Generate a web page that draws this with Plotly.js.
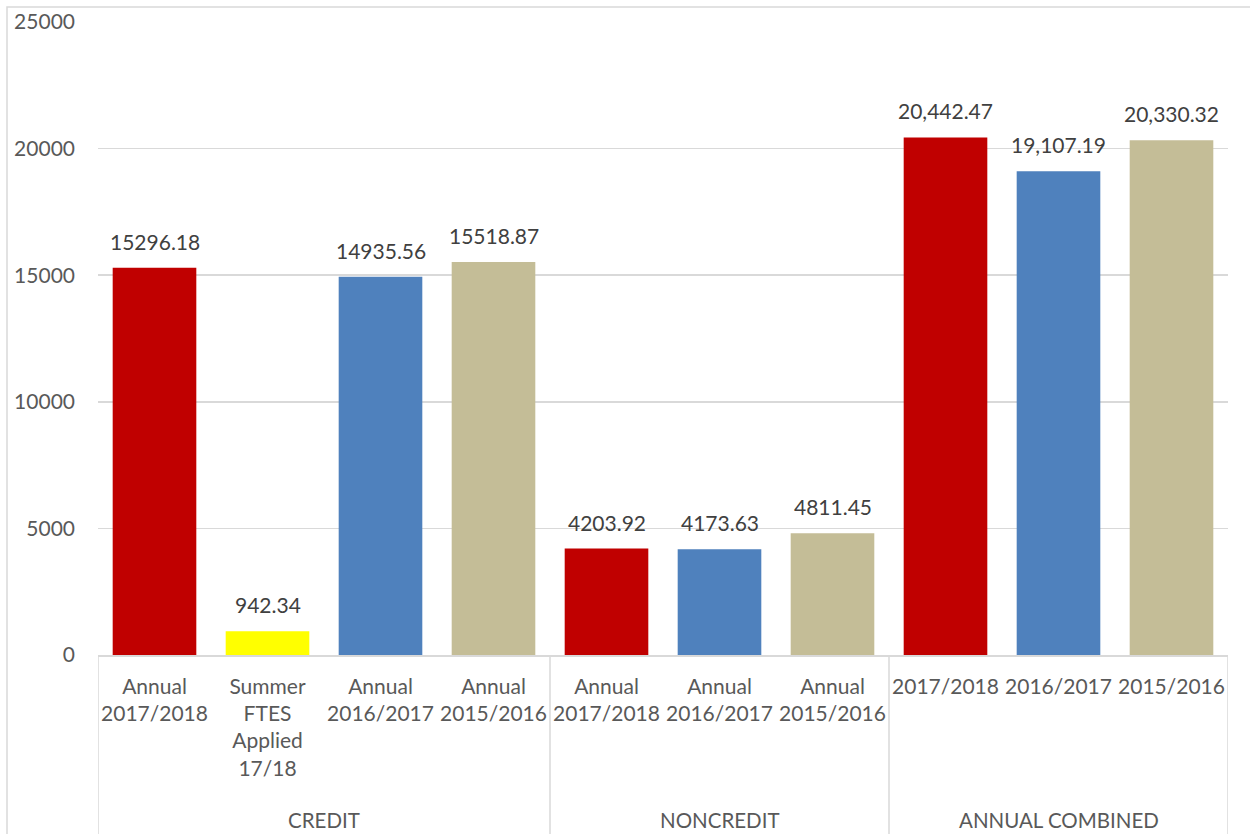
<!DOCTYPE html>
<html>
<head>
<meta charset="utf-8">
<script src="https://cdn.plot.ly/plotly-3.0.1.min.js"></script>
<style>
html,body{margin:0;padding:0;background:#fff;}
#chart{width:1250px;height:834px;}
</style>
</head>
<body>
<div id="chart"></div>
<script>
const groups = ["CREDIT", "NONCREDIT", "ANNUAL COMBINED"];
const groupOf = [0, 0, 0, 0, 1, 1, 1, 2, 2, 2];
const tickLabels = [
  "Annual<br>2017/2018",
  "Summer<br>FTES<br>Applied<br>17/18",
  "Annual<br>2016/2017",
  "Annual<br>2015/2016",
  "Annual<br>2017/2018",
  "Annual<br>2016/2017",
  "Annual<br>2015/2016",
  "2017/2018",
  "2016/2017",
  "2015/2016"
];
const values = [15296.18, 942.34, 14935.56, 15518.87, 4203.92, 4173.63, 4811.45, 20442.47, 19107.19, 20330.32];
const valueLabels = ["15296.18", "942.34", "14935.56", "15518.87", "4203.92", "4173.63", "4811.45", "20,442.47", "19,107.19", "20,330.32"];
const barColors = ["#C00000", "#FFFF00", "#4F81BD", "#C4BD97", "#C00000", "#4F81BD", "#C4BD97", "#C00000", "#4F81BD", "#C4BD97"];
const yTicks = [0, 5000, 10000, 15000, 20000, 25000];

const xs = tickLabels.map((_, i) => i);
const FONT = "Lato, 'Open Sans', sans-serif";
const H = 834, W = 1250;
const mL = 98, mR = 22, mT = 22, mB = 179;
const plotH = H - mT - mB, plotW = W - mL - mR;

const annotations = [];
xs.forEach((x, i) => {
  annotations.push({
    x: x, y: values[i], xref: "x", yref: "y",
    text: valueLabels[i], showarrow: false,
    yanchor: "bottom", yshift: 12,
    font: {family: FONT, size: 21, color: "#404040"}
  });
});
groups.forEach((g, gi) => {
  const idx = xs.filter(i => groupOf[i] === gi);
  const cx = (idx[0] + idx[idx.length - 1]) / 2;
  annotations.push({
    x: cx, y: -(820 - 655) / plotH, xref: "x", yref: "paper",
    text: g, showarrow: false, yanchor: "middle",
    font: {family: FONT, size: 20.5, color: "#595959"}
  });
});

const shapes = [];
const sepY0 = 0, sepY1 = -(H - mT - plotH) / plotH - 0.01;
const seps = [-0.5];
for (let i = 1; i < groupOf.length; i++) if (groupOf[i] !== groupOf[i - 1]) seps.push(i - 0.5);
seps.push(groupOf.length - 0.5);
seps.forEach(s => shapes.push({
  type: "line", xref: "x", yref: "paper", x0: s, x1: s, y0: sepY0, y1: sepY1,
  line: {color: "#D9D9D9", width: 1.5}
}));
shapes.push({
  type: "rect", xref: "paper", yref: "paper",
  x0: (7 - mL) / plotW, x1: (W + 20 - mL) / plotW,
  y0: -(H + 20 - mT - plotH) / plotH, y1: 1 + (mT - 7) / plotH,
  line: {color: "#D9D9D9", width: 1.5}
});

const trace = {
  type: "bar", x: xs, y: values,
  marker: {color: barColors, line: {width: 0}},
  hoverinfo: "skip"
};

const layout = {
  width: W, height: H,
  margin: {l: mL, r: mR, t: mT, b: mB},
  paper_bgcolor: "#fff", plot_bgcolor: "#fff",
  showlegend: false,
  bargap: 0.26,
  xaxis: {
    range: [-0.5, 9.5], tickmode: "array", tickvals: xs, ticktext: tickLabels,
    showgrid: false, zeroline: false, showline: true, linecolor: "#D9D9D9", linewidth: 1.5,
    ticks: "", ticklabelstandoff: 12,
    tickfont: {family: FONT, size: 21, color: "#595959"}, fixedrange: true
  },
  yaxis: {
    range: [0, 25000], tickmode: "array", tickvals: yTicks,
    ticktext: yTicks.map(String),
    showgrid: true, gridcolor: "#D9D9D9", gridwidth: 1.5, zeroline: false, showline: false,
    ticks: "", ticklabelstandoff: 22,
    tickfont: {family: FONT, size: 21, color: "#595959"}, fixedrange: true
  },
  annotations: annotations,
  shapes: shapes
};

Plotly.newPlot("chart", [trace], layout, {displayModeBar: false, staticPlot: true});
</script>
</body>
</html>
